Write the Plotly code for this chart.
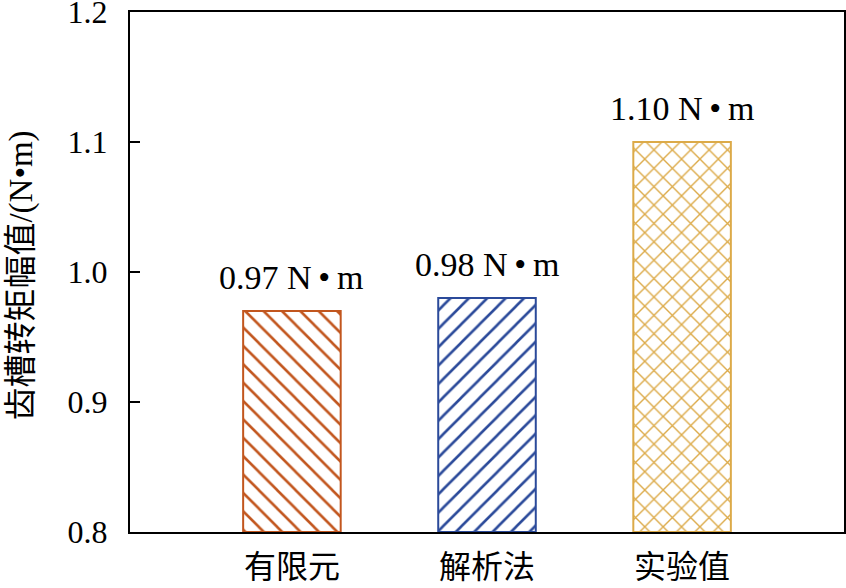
import plotly.graph_objects as go

categories = ["有限元", "解析法", "实验值"]
values = [0.97, 0.98, 1.10]
labels = ["0.97 N\u2009•\u2009m", "0.98 N\u2009•\u2009m", "1.10 N\u2009•\u2009m"]
colors = ["#C2561E", "#2B4A9A", "#DCAA48"]
shapes = ["\\", "/", "x"]
yticks = [0.8, 0.9, 1.0, 1.1, 1.2]
yticklabels = ["0.8", "0.9", "1.0", "1.1", "1.2"]
ytitle = "齿槽转矩幅值/(N•m)"

serif = "Liberation Serif, Times New Roman, serif"
mixed = "Liberation Serif, Noto Sans CJK SC"
cjk = "Noto Sans CJK SC"

fig = go.Figure()
for i, c in enumerate(categories):
    fig.add_trace(go.Bar(
        x=[c], y=[values[i] - 0.8], base=0.8, width=0.5,
        marker=dict(
            color="white",
            line=dict(color=colors[i], width=2),
            pattern=dict(shape=shapes[i], fgcolor=colors[i], bgcolor="white",
                         size=13, solidity=0.2, fgopacity=1, fillmode="replace"),
        ),
        showlegend=False, hoverinfo="skip",
    ))
    fig.add_annotation(x=c, y=values[i], text=labels[i], showarrow=False,
                       yanchor="bottom", yshift=13,
                       font=dict(family=serif, size=34, color="black"))

fig.add_annotation(xref="paper", yref="paper", x=-0.152, y=0.494,
                   xanchor="center", yanchor="middle", textangle=-90,
                   text=ytitle, showarrow=False,
                   font=dict(family=mixed, size=33, color="black"))

fig.update_layout(
    width=846, height=588,
    margin=dict(l=130, r=2, t=12, b=56, autoexpand=False),
    plot_bgcolor="white", paper_bgcolor="white",
    xaxis=dict(range=[-0.83, 2.83], showline=True, linecolor="black", linewidth=2,
               mirror=True, ticks="", ticklabelstandoff=6, automargin=False,
               tickfont=dict(family=cjk, size=32, color="black"),
               showgrid=False),
    yaxis=dict(range=[0.8, 1.2000001], tickvals=yticks, ticktext=yticklabels,
               showline=True, linecolor="black", linewidth=2, mirror=True,
               ticks="inside", ticklen=10, tickwidth=1.5, tickcolor="black",
               ticklabelstandoff=14, ticklabeloverflow="allow", automargin=False,
               tickfont=dict(family=serif, size=32, color="black"), showgrid=False,
               zeroline=False),
)

fig.write_html(
    "out.html",
    config={"displayModeBar": False},
    post_script="document.body.style.margin='0';document.body.style.overflow='hidden';"
                "var gd=document.getElementById('{plot_id}');"
                "Plotly.relayout(gd,{width:846,height:588});",
)
